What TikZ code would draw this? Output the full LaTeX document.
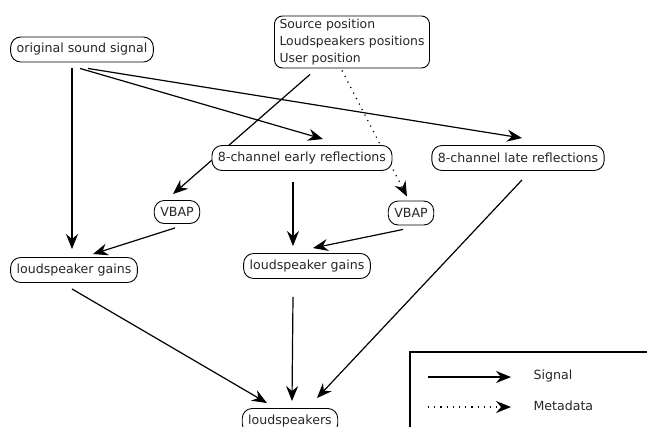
\documentclass[tikz,border=0pt]{standalone}
\usepackage{fontspec}
\setmainfont{DejaVu Sans}
\usetikzlibrary{arrows.meta,backgrounds,calc}
\begin{document}
\begin{tikzpicture}[x=1pt,y=-1pt,
  box/.style={draw,line width=0.9pt,rounded corners=10pt,fill=white,minimum height=25pt,
    inner xsep=6pt,inner ysep=2pt,font=\fontsize{12.6}{14}\selectfont,text=black!85},
  sig/.style={line width=1.2pt,-{Stealth[length=15pt,width=12pt,inset=5pt]}},
  meta/.style={line width=1.2pt,dash pattern=on 1.2pt off 5pt,-{Stealth[length=15pt,width=12pt,inset=5pt]}},
  lbl/.style={anchor=west,font=\fontsize{12.6}{14}\selectfont,text=black!85}]
\useasboundingbox (0,0) rectangle (647,426);

\node[box] (orig) at (82,49.5) {original sound signal};
\node[box,rounded corners=8pt,align=left,inner ysep=3pt,inner xsep=5pt,font=\fontsize{12.4}{17}\selectfont] (src) at (352,42) {Source position\\Loudspeakers positions\\User position};
\node[box] (early) at (302,158) {8-channel early reflections};
\node[box] (late) at (518,158) {8-channel late reflections};
\node[box,minimum height=23pt] (vbapL) at (177,212) {VBAP};
\node[box,minimum height=24pt] (vbapR) at (411,213) {VBAP};
\node[box] (gainsL) at (74,270) {loudspeaker gains};
\node[box] (gainsM) at (307,266) {loudspeaker gains};
\node[box] (spk) at (290,421) {loudspeakers};

\begin{scope}[on background layer]
  \draw[sig] ($(src.south)+(-42,6)$) -- ($(vbapL.north)+(-4,-6)$);
  \draw[meta] ($(src.south)+(-10,2)$) -- ($(vbapR.north)+(-4,-4)$);
\end{scope}

\draw[sig] ($(orig.south)+(-10,6)$) -- ($(gainsL.north)+(-2,-8)$);
\draw[sig] ($(orig.south)+(-2,6)$) -- ($(early.north)+(21,-6)$);
\draw[sig] ($(orig.south)+(6,6)$) -- ($(late.north)+(4,-7)$);
\draw[sig] ($(early.south)+(-9,11)$) -- ($(gainsM.north)+(-14,-7)$);
\draw[sig] ($(vbapL.south)+(-2,4)$) -- ($(gainsL.north)+(19,-3)$);
\draw[sig] ($(vbapR.south)+(-8,4)$) -- ($(gainsM.north)+(6,-5)$);
\draw[sig] ($(gainsL.south)+(-2,6)$) -- ($(spk.north)+(-23,-5)$);
\draw[sig] ($(gainsM.south)+(-14,18)$) -- ($(spk.north)+(2,-7)$);
\draw[sig] ($(late.south)+(4,9)$) -- ($(spk.north)+(27,-10)$);

% legend
\begin{scope}
\clip (0,0) rectangle (647,426);
\draw[line width=1.8pt] (410,352) rectangle (700,480);
\end{scope}
\coordinate (s1) at (428,377);
\coordinate (s2) at (511,377);
\coordinate (m1) at (428,407);
\coordinate (m2) at (511,407);
\draw[sig] (s1) -- (s2);
\draw[meta] (m1) -- (m2);
\node[lbl] (lsig) at (530,376) {Signal};
\node[lbl] (lmeta) at (530,406) {Metadata};
\end{tikzpicture}
\end{document}
